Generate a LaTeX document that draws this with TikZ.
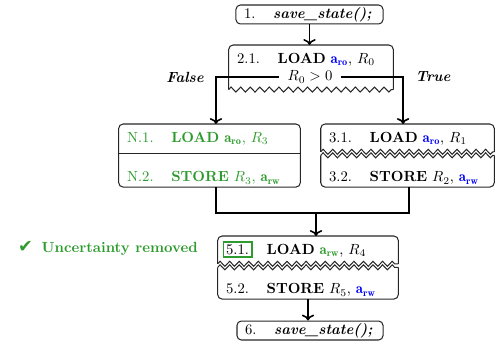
\documentclass[tikz,border=0pt]{standalone}
\usepackage{fontspec}
\usepackage{amsmath}
\usepackage{tikz}
\usetikzlibrary{positioning,decorations.pathmorphing,arrows.meta}
\newfontfamily\dejavu{DejaVu Sans}
\definecolor{okgreen}{RGB}{45,155,45}
\setlength{\fboxsep}{1.3pt}
\setlength{\fboxrule}{1.1pt}
\newcommand{\stepnum}[1]{#1\hspace{12pt}}
\newcommand{\addr}[2]{\textcolor{#1}{$\mathbf{a}_{\mathbf{#2}}$}}
\newcommand{\hilite}[1]{\makebox[0pt][l]{\hspace*{-2.4pt}\fcolorbox{okgreen}{white}{\phantom{#1}}}#1}
\tikzstyle{line} = [draw, line width=1.1pt, ->]

\begin{document}
\begin{tikzpicture}[x=0.68pt, y=-0.68pt]
    \tikzstyle{block} = [rectangle, draw=black!85, line width=0.7pt, rounded corners=3pt, align=left, inner xsep=5.5pt, inner ysep=0pt, minimum height=12.9pt]
    \tikzstyle{topcell} = [rectangle, align=left, inner xsep=5.5pt, inner ysep=0pt, text height=12.2pt, text depth=7.5pt]
    \tikzstyle{botcell} = [rectangle, align=left, inner xsep=5.5pt, inner ysep=0pt, text height=19pt, text depth=3.4pt]
    \tikzstyle{boxline} = [draw=black!85, line width=0.7pt, rounded corners=3pt]
    \tikzstyle{torn} = [draw=black!85, line width=0.7pt, decorate, decoration={zigzag, segment length=6.5pt, amplitude=1.7pt}]
    \useasboundingbox (0,0) rectangle (495,345);

    % Save state
    \node [block, text width=89pt] (b1) at (309.5,14.5) {\stepnum{1.}\textbf{\textit{save\_state();}}};

    % Load with branch condition
    \node [topcell, text width=100.5pt, anchor=north] (b2) at (311,45) {\stepnum{2.1.}\textbf{LOAD} \addr{blue}{ro}, $R_0$};
    \node [inner xsep=6pt] (cond) at (310,77) {$R_0 > 0$};
    \draw [boxline] ([yshift=-10.2pt]b2.south west) -- (b2.north west) -- (b2.north east) -- ([yshift=-10.2pt]b2.south east);
    \draw [torn] ([yshift=-10.2pt]b2.south west) -- ([yshift=-10.2pt]b2.south east);

    % Branch labels
    \node (lfalse) at (185,77) {\textbf{\textit{False}}};
    \node (ltrue) at (433,77) {\textbf{\textit{True}}};

    % False branch
    \node [topcell, text width=112.1pt, anchor=north, text=okgreen] (n1) at (209.5,124) {\stepnum{N.1.}\textbf{LOAD} \addr{okgreen}{ro}, $R_3$};
    \node [botcell, text width=112.1pt, below=0pt of n1, text=okgreen] (n2) {\stepnum{N.2.}\textbf{STORE} $R_3$, \addr{okgreen}{rw}};
    \draw [boxline] (n1.north west) rectangle (n2.south east);
    \draw [boxline] (n1.south west) -- (n1.south east);

    % True branch
    \node [topcell, text width=106.6pt, anchor=north] (t1) at (407.5,124) {\stepnum{3.1.}\textbf{LOAD} \addr{blue}{ro}, $R_1$};
    \node [botcell, text width=106.6pt, below=0pt of t1] (t2) {\stepnum{3.2.}\textbf{STORE} $R_2$, \addr{blue}{rw}};
    \draw [boxline] ([yshift=1.2pt]t1.south west) -- (t1.north west) -- (t1.north east) -- ([yshift=1.2pt]t1.south east);
    \draw [torn] ([yshift=1.2pt]t1.south west) -- ([yshift=1.2pt]t1.south east);
    \draw [boxline] ([yshift=-1.2pt]t2.north west) -- (t2.south west) -- (t2.south east) -- ([yshift=-1.2pt]t2.north east);
    \draw [torn] ([yshift=-1.2pt]t2.north west) -- ([yshift=-1.2pt]t2.north east);

    % After the merge
    \node [topcell, text width=111.4pt, anchor=north] (f1) at (308,236) {\stepnum{\hilite{5.1.}}\textbf{LOAD} \addr{okgreen}{rw}, $R_4$};
    \node [botcell, text width=111.4pt, below=0pt of f1] (f2) {\stepnum{5.2.}\textbf{STORE} $R_5$, \addr{blue}{rw}};
    \draw [boxline] ([yshift=1.2pt]f1.south west) -- (f1.north west) -- (f1.north east) -- ([yshift=1.2pt]f1.south east);
    \draw [torn] ([yshift=1.2pt]f1.south west) -- ([yshift=1.2pt]f1.south east);
    \draw [boxline] ([yshift=-1.2pt]f2.north west) -- (f2.south west) -- (f2.south east) -- ([yshift=-1.2pt]f2.north east);
    \draw [torn] ([yshift=-1.2pt]f2.north west) -- ([yshift=-1.2pt]f2.north east);

    % Note
    \node [anchor=base east, text=okgreen] (note) at (203,252) {{\dejavu\large ✔}\hspace{6pt}\textbf{Uncertainty removed}};

    % Save state again
    \node [block, text width=88.3pt] (b6) at (310,330.5) {\stepnum{6.}\textbf{\textit{save\_state();}}};

    % Arrows
    \path [line] (b1.south) -- (b1.south |- b2.north);
    \path [line] (cond.west) -| ([xshift=4.4pt]n1.north);
    \path [line] (cond.east) -| ([xshift=-3pt]t1.north);
    \coordinate (join) at (316,213);
    \draw [line width=1.1pt] ([xshift=4.4pt]n2.south) |- (join);
    \draw [line width=1.1pt] ([xshift=1pt]t2.south) |- (join);
    \path [line] (join) -- (join |- f1.north);
    \path [line] (f2.south) -- (f2.south |- b6.north);

\end{tikzpicture}
\end{document}
